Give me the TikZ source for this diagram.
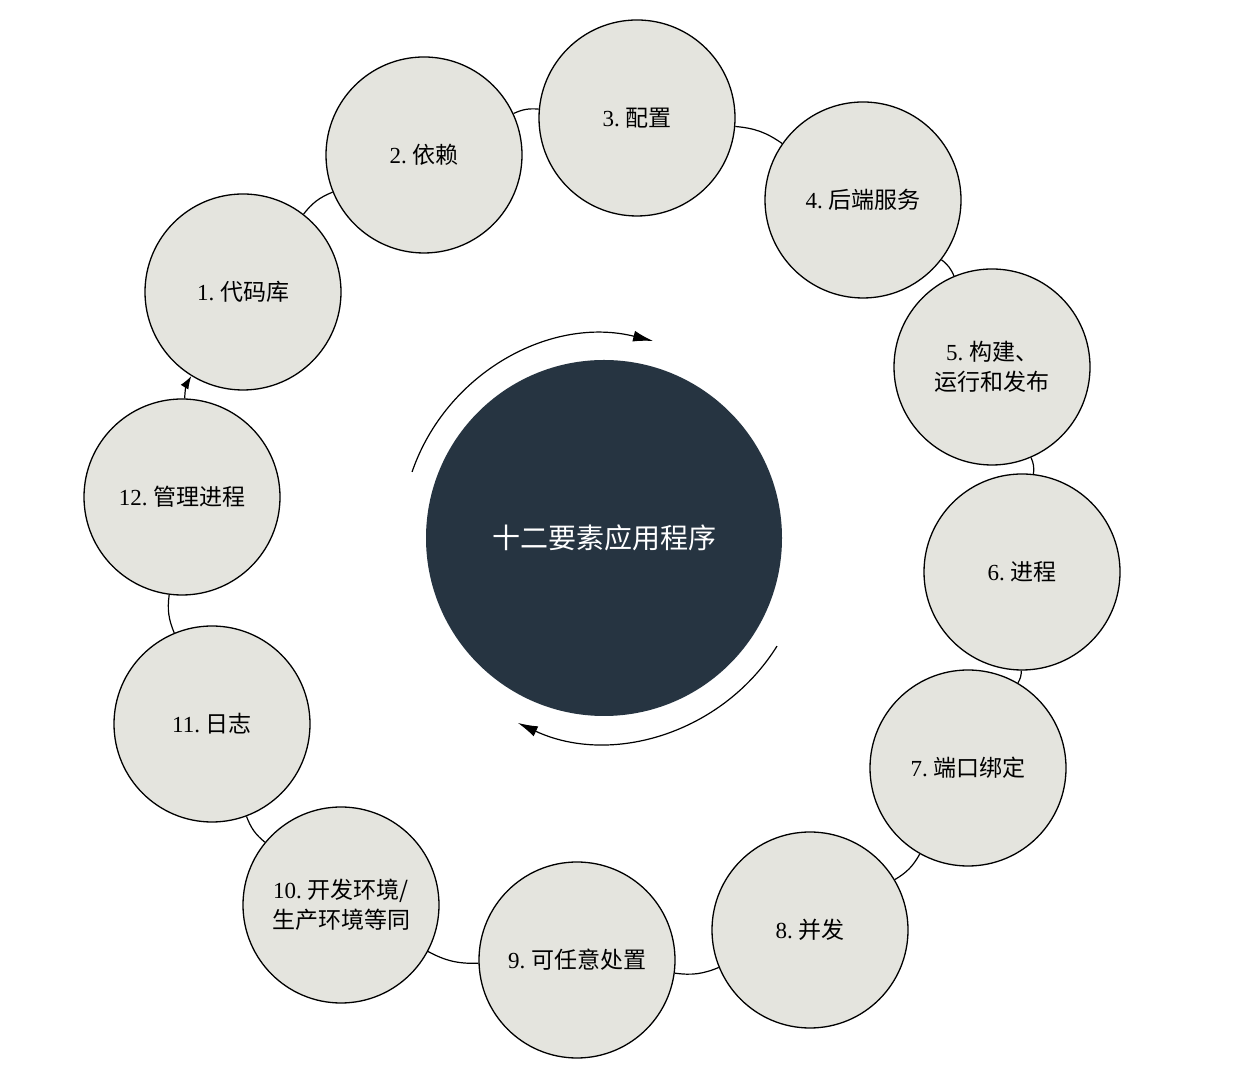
\documentclass[tikz,border=0pt]{standalone}
\usepackage{fontspec}
\setmainfont{Liberation Serif}
\newfontfamily\cjk{Noto Sans CJK SC}
\usetikzlibrary{arrows.meta}
\definecolor{factorfill}{HTML}{E4E4DE}
\definecolor{appfill}{HTML}{263441}
\tikzstyle{factor}=[draw,circle,fill=factorfill,minimum size=196pt,inner sep=0pt,align=center,line width=1.3pt,font=\fontsize{23}{30}\selectfont]
\tikzstyle{app}=[circle,fill=appfill,minimum size=356pt,text=white,font=\fontsize{28}{34}\selectfont\cjk]
\tikzstyle{ring}=[line width=1.2pt]
\newcommand{\fct}[2]{#1.\ {\cjk #2}}

\begin{document}
\begin{tikzpicture}[x=1pt,y=1pt]
  \useasboundingbox (0,0) rectangle (1236,1070);
  \node[app] (app) at (604,532) {十二要素应用程序};
  % the twelve factors, clockwise
  \node[factor] (f1) at (243,778) {\fct{1}{代码库}};
  \node[factor] (f2) at (424,915) {\fct{2}{依赖}};
  \node[factor] (f3) at (637,952) {\fct{3}{配置}};
  \node[factor] (f4) at (863,870) {\fct{4}{后端服务}};
  \node[factor] (f5) at (992,703) {\fct{5}{构建、}\\{\cjk 运行和发布}};
  \node[factor] (f6) at (1022,498) {\fct{6}{进程}};
  \node[factor] (f7) at (968,302) {\fct{7}{端口绑定}};
  \node[factor] (f8) at (810,140) {\fct{8}{并发}};
  \node[factor] (f9) at (577,110) {\fct{9}{可任意处置}};
  \node[factor] (f10) at (341,165) {\fct{10}{开发环境/}\\{\cjk 生产环境等同}};
  \node[factor] (f11) at (212,346) {\fct{11}{日志}};
  \node[factor] (f12) at (182,573) {\fct{12}{管理进程}};
  \foreach \a/\b in {1/2,2/3,3/4,4/5,5/6,6/7,7/8,8/9,9/10,10/11,11/12}
    \draw[ring] (f\a) to[bend left=15] (f\b);
  \draw[ring,-{Latex[length=13pt,width=9pt]}] (f12) to[bend left=15] (f1);
  % cycle arrows round the app
  \draw[ring,-{Latex[length=20pt,width=11pt]}] (app.center) ++(161:203) arc (161:76:203);
  \draw[ring,-{Latex[length=20pt,width=11pt]}] (app.center) ++(-32:204) arc (-32:-115:204);
\end{tikzpicture}
\end{document}
